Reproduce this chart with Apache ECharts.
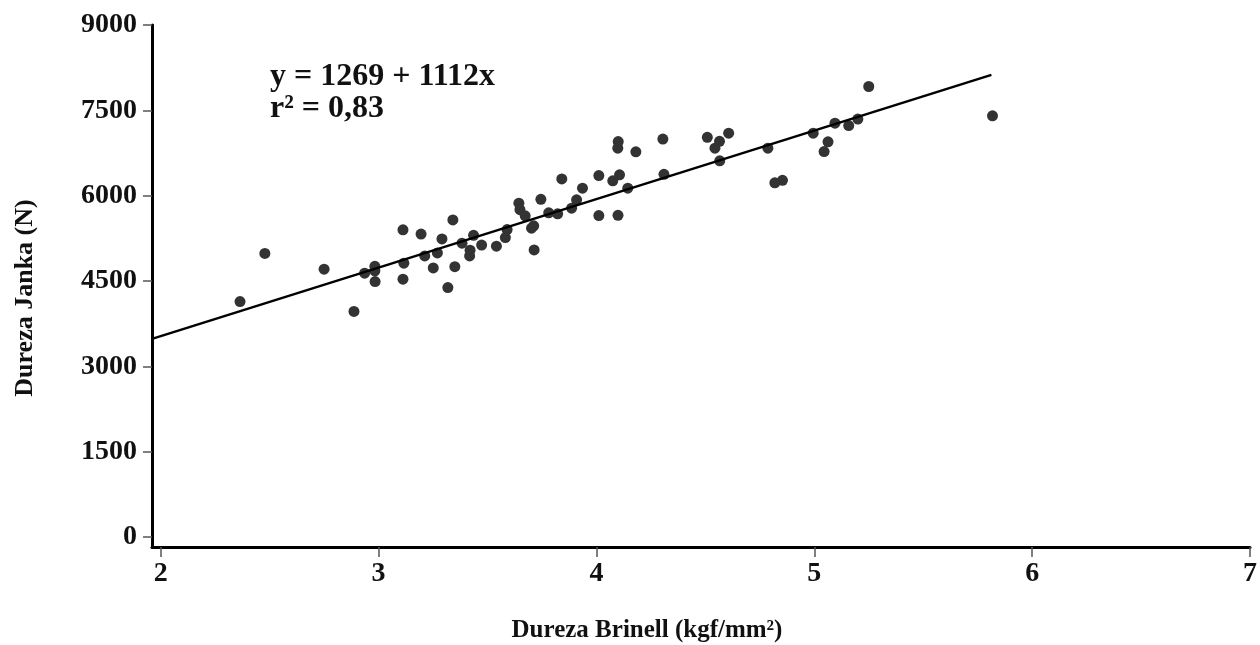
<!DOCTYPE html>
<html>
<head>
<meta charset="utf-8">
<script src="https://cdn.jsdelivr.net/npm/echarts@6/dist/echarts.min.js"></script>
<style>
html,body{margin:0;padding:0;background:#fff;}
#chart{width:1260px;height:645px;}
</style>
</head>
<body>
<div id="chart"></div>
<script>
// Brinell hardness (kgf/mm2) and Janka hardness (N) per specimen
const brinell = [2.364,2.478,2.750,2.887,2.936,2.983,2.983,2.984,3.112,3.195,3.341,3.291,3.116,3.112,3.212,3.270,3.251,3.350,3.318,3.383,3.436,3.420,3.418,3.473,3.541,3.590,3.582,3.644,3.649,3.673,3.702,3.712,3.714,3.745,3.781,3.822,3.841,3.886,3.909,3.936,4.011,4.011,4.075,4.106,4.100,4.098,4.099,4.144,4.181,4.305,4.310,4.509,4.544,4.565,4.607,4.566,4.787,4.819,4.854,4.995,5.045,5.063,5.095,5.158,5.200,5.250,5.818];
const janka = [4138,4985,4707,3965,4637,4757,4680,4489,5399,5325,5574,5240,4813,4532,4941,4994,4730,4751,4384,5165,5302,5042,4941,5131,5112,5404,5263,5868,5754,5645,5428,5469,5047,5935,5698,5680,6295,5780,5926,6132,6353,5650,6260,6366,6951,6835,5654,6132,6770,6995,6375,7025,6835,6955,7099,6612,6835,6225,6269,7099,6776,6946,7275,7233,7347,7919,7403];
// Fitted line as drawn in the figure (end points)
const fitX = [1.96, 5.813];
const fitY = [3482, 8124];
// Axis ticks
const xTicks = [2,3,4,5,6,7];
const yTicks = [0,1500,3000,4500,6000,7500,9000];
const eqLine1 = 'y = 1269 + 1112x';
const eqLine2 = 'r² = 0,83';
const xTitle = 'Dureza Brinell (kgf/mm²)';
const yTitle = 'Dureza Janka (N)';

const FONT = '"Liberation Serif", "Times New Roman", serif';
const chart = echarts.init(document.getElementById('chart'), null, {renderer:'canvas'});
const points = brinell.map((x,i)=>[x, janka[i]]);
const fit = fitX.map((x,i)=>[x, fitY[i]]);

chart.setOption({
  backgroundColor:'#ffffff',
  animation:false,
  grid:{left:152,right:2,top:25,bottom:98,containLabel:false},
  xAxis:{
    type:'value', min:1.96, max:7,
    axisLine:{onZero:false, lineStyle:{color:'#000', width:3}},
    axisTick:{customValues:xTicks, length:10, lineStyle:{color:'#555', width:1.5}},
    axisLabel:{customValues:xTicks, formatter:v=>String(v), margin:13, color:'#111', fontSize:28, fontWeight:'bold', fontFamily:FONT},
    splitLine:{show:false}
  },
  yAxis:{
    type:'value', min:-176, max:9000,
    axisLine:{show:true, onZero:false, lineStyle:{color:'#000', width:3}},
    axisTick:{show:true, customValues:yTicks, length:9, lineStyle:{color:'#555', width:1.5}},
    axisLabel:{customValues:yTicks, formatter:v=>String(v), margin:15, color:'#111', fontSize:28, fontWeight:'bold', fontFamily:FONT},
    splitLine:{show:false}
  },
  series:[
    {type:'scatter', data:points, symbol:'circle', symbolSize:11,
     itemStyle:{color:'#333333', opacity:1}, z:2},
    {type:'line', data:fit, showSymbol:false, symbol:'none',
     lineStyle:{color:'#000', width:2.5}, z:3}
  ],
  graphic:[
    {type:'text', x:270, y:77, style:{text:eqLine1, font:'bold 32px '+FONT, fill:'#111', align:'left', verticalAlign:'middle'}},
    {type:'text', x:270, y:109, style:{text:eqLine2, font:'bold 32px '+FONT, fill:'#111', align:'left', verticalAlign:'middle'}},
    {type:'text', x:647, y:631, style:{text:xTitle, font:'bold 25px '+FONT, fill:'#111', align:'center', verticalAlign:'middle'}},
    {type:'text', x:25, y:298, rotation:Math.PI/2, style:{text:yTitle, font:'bold 26px '+FONT, fill:'#111', align:'center', verticalAlign:'middle'}}
  ]
});
</script>
</body>
</html>
